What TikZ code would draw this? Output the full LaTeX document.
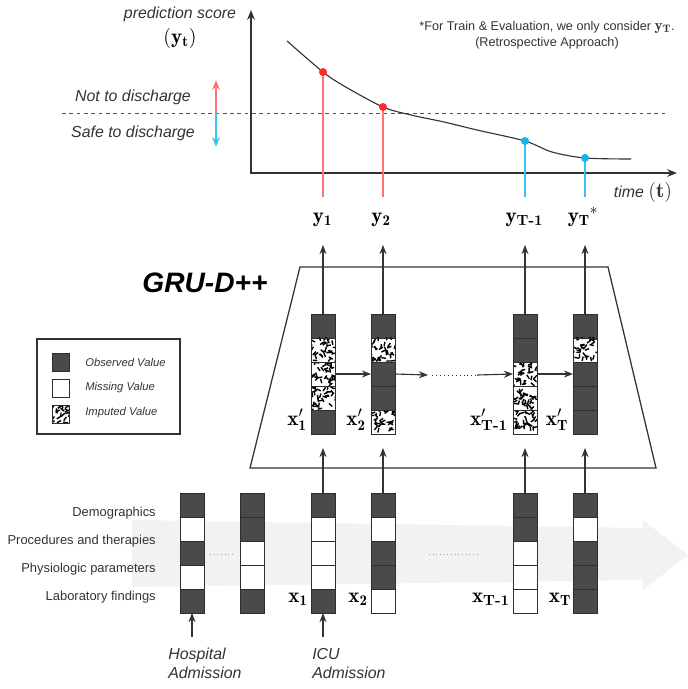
\documentclass[tikz,border=0pt]{standalone}
\usepackage{amsmath}
\usepackage{fontspec}
\setsansfont{Liberation Sans}
\usetikzlibrary{arrows.meta}
\definecolor{ObsGray}{HTML}{4A4A4A}
\definecolor{CellLine}{HTML}{2E2E2E}
\definecolor{InkGray}{HTML}{333333}
\definecolor{BgGray}{HTML}{F2F2F2}
\definecolor{PtRed}{HTML}{FF2B2B}
\definecolor{LnRed}{HTML}{FF7373}
\definecolor{PtBlue}{HTML}{17B3EC}
\definecolor{LnBlue}{HTML}{3CC4F0}

\tikzset{
  cell/.style={draw=CellLine, line width=0.7pt, minimum size=0.6cm, inner sep=0pt, outer sep=0pt, #1},
  obs/.style={fill=ObsGray},
  mis/.style={fill=white},
  imp/.style={fill=white, path picture={
      \foreach \k in {1,...,34}{
        \pgfmathsetmacro\px{rand*8.5}\pgfmathsetmacro\py{rand*8.5}\pgfmathsetmacro\pa{rnd*180}
        \draw[black, line width=1pt] ([shift={(\px pt,\py pt)}]path picture bounding box.center) -- ++(\pa:3.2pt);
      }}},
  arr/.style={-{Stealth[length=6.5pt,width=5pt]}, line width=0.8pt, draw=InkGray},
  scoreaxis/.style={{Stealth[length=7pt,width=5.5pt]}-{Stealth[length=7pt,width=5.5pt]}, line width=1pt, draw=InkGray},
  thresh/.style={draw=InkGray!85, line width=0.6pt, dash pattern=on 2.6pt off 2.6pt},
  ptdot/.style={circle, minimum size=0.2cm, inner sep=0pt},
  rowlab/.style={font=\sffamily\fontsize{9.2}{11}\selectfont, text=InkGray, anchor=east, inner sep=0pt},
  ann/.style={font=\sffamily\itshape\fontsize{11.3}{13.5}\selectfont, text=InkGray, inner sep=0pt},
  legtxt/.style={font=\sffamily\itshape\fontsize{8}{10}\selectfont, text=InkGray, anchor=west, inner sep=0pt},
  mlab/.style={font=\fontsize{15}{18}\selectfont, anchor=base, inner sep=0pt},
  gdots/.style={draw=black!35, line width=0.6pt, dash pattern=on 0.6pt off 2pt}
}

% one column of five feature cells
\newcommand\datacol[4]{%
  \foreach \s [count=\k] in {#4}
    \node[cell/.expand once=\s] (#1-\k) at (#2,{#3+24*\k-12}) {};
}

\begin{document}
\begin{tikzpicture}[x=0.025cm,y=-0.025cm]
\useasboundingbox (0,0) rectangle (688,689);
\pgfmathsetseed{11}

% time arrow behind the inputs
\fill[BgGray] (132,520) -- (643,528) -- (643,520) -- (688,555) -- (643,590) -- (643,580) -- (132,587) -- cycle;

% prediction score plot
\coordinate (ytop) at (251,10);
\coordinate (orig) at (251,173);
\coordinate (xend) at (677,173);
\draw[scoreaxis] (ytop) -- (orig) -- (xend);
\node[ann] (score) at (180,14) {prediction score};
\node[mlab, anchor=center] (yt) at (180,38) {$(\mathbf{y}_{\mathbf{t}})$};
\node[ann] (time) at (643,192) {time {\normalfont\fontsize{15}{18}\selectfont$(\mathbf{t})$}};
\node[font=\sffamily\fontsize{9}{11.4}\selectfont, text=InkGray, align=center, inner sep=0pt] (note) at (547,35)
  {*For Train \& Evaluation, we only consider {\fontsize{11}{11}\selectfont$\mathbf{y}_{\mathbf{T}}$}.\\(Retrospective Approach)};

\coordinate (thl) at (62,113);
\coordinate (thr) at (667,113);
\draw[thresh] (thl) -- (thr);
\node[ann] (notdis) at (133,97) {Not to discharge};
\node[ann] (safedis) at (133,133) {Safe to discharge};
\coordinate (split) at (216,113);
\coordinate (uptip) at (216,80);
\coordinate (dntip) at (216,147);
\draw[-{Stealth[length=7pt,width=5.5pt]}, line width=0.9pt, draw=LnRed, fill=PtRed] (split) -- (uptip);
\draw[-{Stealth[length=7pt,width=5.5pt]}, line width=0.9pt, draw=LnBlue, fill=PtBlue] (split) -- (dntip);

\draw[InkGray, line width=0.8pt] plot[smooth, tension=0.5] coordinates
  {(287,41) (323,72) (344,86) (383,107) (411,115) (444,122) (477,130) (525,141) (552,152) (585,158) (631,159)};

\coordinate (d1e) at (323,197);
\coordinate (d2e) at (383,197);
\coordinate (d3e) at (525,197);
\coordinate (d4e) at (585,197);
\draw[LnRed, line width=0.9pt] (323,72) -- (d1e);
\draw[LnRed, line width=0.9pt] (383,107) -- (d2e);
\draw[LnBlue, line width=0.9pt] (525,141) -- (d3e);
\draw[LnBlue, line width=0.9pt] (585,158) -- (d4e);
\node[ptdot, fill=PtRed] (d1) at (323,72) {};
\node[ptdot, fill=PtRed] (d2) at (383,107) {};
\node[ptdot, fill=PtBlue] (d3) at (525,141) {};
\node[ptdot, fill=PtBlue] (d4) at (585,158) {};

% outputs
\node[mlab] (y1) at (322.5,222) {$\mathbf{y}_{\mathbf{1}}$};
\node[mlab] (y2) at (381,222) {$\mathbf{y}_{\mathbf{2}}$};
\node[mlab] (yT1) at (524.5,222) {$\mathbf{y}_{\text{\bfseries T-1}}$};
\node[mlab] (yT) at (583,222) {$\mathbf{y}_{\mathbf{T}}{}^{*}$};

% GRU-D++ block
\node[font=\sffamily\bfseries\itshape\fontsize{20}{24}\selectfont, inner sep=0pt] (grud) at (205,283) {GRU-D++};
\draw[InkGray, line width=0.9pt] (300,267) -- (608,267) -- (656,468) -- (250,468) -- cycle;

% legend
\node[draw=InkGray, line width=0.9pt, minimum width=3.575cm, minimum height=2.375cm, inner sep=0pt] (legend) at (108.5,386.5) {};
\node[cell=obs, minimum size=0.44cm] (lobs) at (61,362.5) {};
\node[cell=mis, minimum size=0.44cm] (lmis) at (61,388.5) {};
\node[cell=imp, minimum size=0.44cm] (limp) at (61,414.5) {};
\node[legtxt] (tobs) at (85,362.5) {Observed Value};
\node[legtxt] (tmis) at (85,388) {Missing Value};
\node[legtxt] (timp) at (85,413) {Imputed Value};

% imputed columns
\datacol{xp1}{323}{314}{obs,imp,imp,imp,obs}
\datacol{xp2}{383}{314}{obs,imp,obs,obs,imp}
\datacol{xpT1}{525}{314}{obs,obs,imp,imp,imp}
\datacol{xpT}{585}{314}{obs,imp,obs,obs,obs}
\node[mlab] (lxp1) at (297,425) {$\mathbf{x}'_{\mathbf{1}}$};
\node[mlab] (lxp2) at (356,425) {$\mathbf{x}'_{\mathbf{2}}$};
\node[mlab] (lxpT1) at (489,425) {$\mathbf{x}'_{\text{\bfseries T-1}}$};
\node[mlab] (lxpT) at (557,425) {$\mathbf{x}'_{\mathbf{T}}$};

\coordinate (t1) at (323,245);
\coordinate (t2) at (383,245);
\coordinate (t3) at (525,245);
\coordinate (t4) at (585,245);
\foreach \b/\t in {xp1/t1, xp2/t2, xpT1/t3, xpT/t4}
  \draw[arr] (\b-1.north) -- (\t);

\coordinate (hd1) at (428,375);
\coordinate (hd2) at (432,375);
\coordinate (hd3) at (477,375);
\draw[arr] (xp1-3.east) -- (xp2-3.west);
\draw[arr] (xp2-3.east) -- (hd1);
\draw[InkGray, line width=0.6pt, dash pattern=on 0.6pt off 2.2pt] (hd2) -- (hd3);
\draw[arr] (hd3) -- (xpT1-3.west);
\draw[arr] (xpT1-3.east) -- (xpT-3.west);

% raw input columns
\datacol{h1}{192}{493}{obs,mis,obs,mis,obs}
\datacol{h2}{252}{493}{obs,obs,mis,mis,obs}
\datacol{x1}{323}{493}{obs,mis,mis,mis,obs}
\datacol{x2}{383}{493}{obs,mis,obs,obs,mis}
\datacol{xT1}{525}{493}{obs,obs,mis,mis,mis}
\datacol{xT}{585}{493}{obs,mis,obs,obs,obs}
\node[mlab] (lx1) at (298,602) {$\mathbf{x}_{\mathbf{1}}$};
\node[mlab] (lx2) at (358,602) {$\mathbf{x}_{\mathbf{2}}$};
\node[mlab] (lxT1) at (491,602) {$\mathbf{x}_{\text{\bfseries T-1}}$};
\node[mlab] (lxT) at (560,602) {$\mathbf{x}_{\mathbf{T}}$};
\draw[gdots] (210,554) -- (235,554);
\draw[gdots] (429,554) -- (477,554);

\foreach \a/\b in {x1/xp1, x2/xp2, xT1/xpT1, xT/xpT}
  \draw[arr, shorten >=0.35cm] (\a-1.north) -- (\b-5.south);

\node[rowlab] (rdemo) at (156,513) {Demographics};
\node[rowlab] (rproc) at (156,541) {Procedures and therapies};
\node[rowlab] (rphys) at (156,569) {Physiologic parameters};
\node[rowlab] (rlab) at (156,597) {Laboratory findings};

\node[ann, align=left, anchor=north west] (hosp) at (168,648) {Hospital\\Admission};
\node[ann, align=left, anchor=north west] (icu) at (312,648) {ICU\\Admission};
\draw[arr, shorten <=0.27cm] (hosp.north -| h1-5.south) -- (h1-5.south);
\draw[arr, shorten <=0.27cm] (icu.north -| x1-5.south) -- (x1-5.south);
\end{tikzpicture}
\end{document}
